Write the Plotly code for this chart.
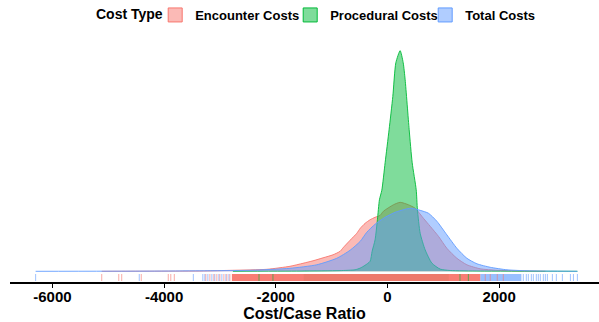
import plotly.graph_objects as go

# ---------------- data ----------------
cost_types = ["Encounter Costs", "Procedural Costs", "Total Costs"]

enc_x = [-5117, -3360, -2768, -2158, -1745, -1512, -1333, -1153, -974, -848, -795, -669,
         -549, -487, -400, -310, -221, -131, -72, 108, 228, 377, 497, 646, 766, 915,
         1065, 1245, 1424, 1663, 1962, 2380, 2829]
enc_d = [0, 0.0000026, 0.0000086, 0.0000172, 0.0000431, 0.0000689, 0.0000904, 0.000116,
         0.000142, 0.000172, 0.000202, 0.000267, 0.000327, 0.00037, 0.000413, 0.000444,
         0.000465, 0.000482, 0.000517, 0.000573, 0.000594, 0.000573, 0.000543, 0.000456,
         0.000388, 0.000301, 0.000198, 0.000112, 0.000056, 0.0000215, 0.0000086,
         0.0000026, 0]

proc_x = [-2768, -1566, -848, -579, -487, -400, -310, -274, -221, -179, -143, -100, -41,
          30, 97, 151, 228, 283, 318, 390, 444, 516, 538, 587, 676, 796, 945, 1124,
          1663, 3403]
proc_d = [0, 0.0000026, 0.000006, 0.000013, 0.0000276, 0.0000517, 0.0000861, 0.000172,
          0.000271, 0.000444, 0.000616, 0.000698, 0.000935, 0.001219, 0.001506, 0.001796,
          0.0019, 0.001796, 0.001649, 0.001219, 0.000935, 0.000702, 0.00053, 0.000327,
          0.000185, 0.0000706, 0.0000189, 0.0000069, 0.0000026, 0]

tot_x = [-6301, -4256, -3360, -2463, -1745, -1266, -908, -669, -487, -370, -221, -41, 138,
         348, 438, 587, 735, 886, 1065, 1245, 1424, 1604, 1842, 2142, 2500, 3403]
tot_d = [0, 0.0000017, 0.0000043, 0.0000086, 0.0000258, 0.000056, 0.000112, 0.000181,
         0.000258, 0.000336, 0.000405, 0.000465, 0.000508, 0.000538, 0.000543, 0.000525,
         0.0005, 0.000431, 0.000314, 0.000198, 0.000112, 0.0000646, 0.0000345,
         0.0000129, 0.0000043, 0]

# rug values (sparse ticks) and dense rug spans [start, end]
enc_rug = [-5117, -4812, -4759, -4409, -3925, -3880, -3817, -3252, -3180, -3109, -3055,
           -3001, -2929, -2875, -2821, 1753, 1842, 1968, 2076]
enc_rug_dense = [-2786, 1663]
proc_rug = [-2300, -2050, 1300, 1450]
proc_rug_dense = [-1500, 1100]
tot_rug = [-6301, -4445, -3476, -3306, -3270, -3216, -3144, -3091, -3019, -2965, -2893,
           -2839, 2434, 2488, 2524, 2578, 2614, 2667, 2703, 2739, 2793, 2829, 2865, 2955,
           3026, 3134, 3278, 3332, 3403]
tot_rug_dense = [1663, 2400]

x_ticks = [-6000, -4000, -2000, 0, 2000]

# ---------------- styling ----------------
colors = {"Encounter Costs": "#F8766D", "Procedural Costs": "#00BA38", "Total Costs": "#619CFF"}
fills = {"Encounter Costs": "rgba(248,118,109,0.5)",
         "Procedural Costs": "rgba(0,186,56,0.5)",
         "Total Costs": "rgba(97,156,255,0.5)"}
FONT = "Liberation Sans, Arial, Helvetica, sans-serif"

fig = go.Figure()

dens = {"Encounter Costs": (enc_x, enc_d),
        "Procedural Costs": (proc_x, proc_d),
        "Total Costs": (tot_x, tot_d)}
for name in cost_types:
    xs, ds = dens[name]
    fig.add_trace(go.Scatter(
        x=xs, y=ds, name=name, mode="lines", fill="tozeroy",
        fillcolor=fills[name], line=dict(color=colors[name], width=0.9, shape="spline", smoothing=0.6),
        legendgroup=name, showlegend=False, hoverinfo="skip"))

# legend keys (square boxes like ggplot's fill keys)
for name in cost_types:
    fig.add_trace(go.Scatter(
        x=[None], y=[None], name=f"<b>{name}</b>", mode="markers",
        marker=dict(symbol="square", size=14, color=fills[name],
                    line=dict(color=colors[name], width=1)),
        legendgroup=name, showlegend=True, hoverinfo="skip"))

# rug: blue first, then green, red on top
rugs = [("Total Costs", tot_rug, tot_rug_dense, 0.65),
        ("Procedural Costs", proc_rug, proc_rug_dense, 0.8),
        ("Encounter Costs", enc_rug, enc_rug_dense, 0.95)]
for name, ticks, span, op in rugs:
    fig.add_trace(go.Bar(
        x=[(span[0] + span[1]) / 2], width=[span[1] - span[0]], y=[1], base=[0],
        yaxis="y2", marker=dict(color=colors[name], line=dict(width=0)), opacity=op,
        showlegend=False, hoverinfo="skip"))
    fig.add_trace(go.Scatter(
        x=ticks, y=[0.5] * len(ticks), yaxis="y2", mode="markers",
        marker=dict(symbol="line-ns", size=7, line=dict(width=1, color=colors[name])),
        opacity=0.6, showlegend=False, hoverinfo="skip"))

fig.update_layout(
    width=599, height=322,
    margin=dict(l=10, r=0, t=30, b=40),
    paper_bgcolor="white", plot_bgcolor="white",
    font=dict(family=FONT, color="black"),
    barmode="overlay",
    showlegend=True,
    legend=dict(
        orientation="h", x=0.2465, xanchor="left", y=1.0, yanchor="bottom",
        font=dict(size=13, family=FONT, color="black"),
        itemwidth=30, traceorder="normal", entrywidth=90,
        bgcolor="rgba(0,0,0,0)",
    ),
    annotations=[dict(
        text="<b>Cost Type</b>", xref="paper", yref="paper", x=0.2037, y=1.0,
        xanchor="center", yanchor="bottom", yshift=6, showarrow=False,
        font=dict(size=14, family=FONT, color="black"))],
    xaxis=dict(
        range=[-6760, 3790], tickvals=x_ticks, ticktext=[f"<b>{v}</b>" for v in x_ticks],
        tickfont=dict(size=15, family=FONT, color="black"),
        showline=True, linecolor="black", linewidth=1.5,
        ticks="outside", ticklen=4, tickcolor="black", tickwidth=1.2,
        ticklabelstandoff=-4,
        showgrid=False, zeroline=False, automargin=False,
        title=dict(text="<b>Cost/Case Ratio</b>", font=dict(size=16, family=FONT), standoff=2),
        anchor="y",
    ),
    yaxis=dict(range=[-0.00009216, 0.0020782], domain=[0, 1], visible=False,
               showgrid=False, zeroline=False),
    yaxis2=dict(range=[0, 1], domain=[0.00397, 0.0317], visible=False, anchor="x",
                showgrid=False, zeroline=False),
)

fig.write_html("out.html", config={"displayModeBar": False},
               post_script="document.body.style.margin='0px';")
